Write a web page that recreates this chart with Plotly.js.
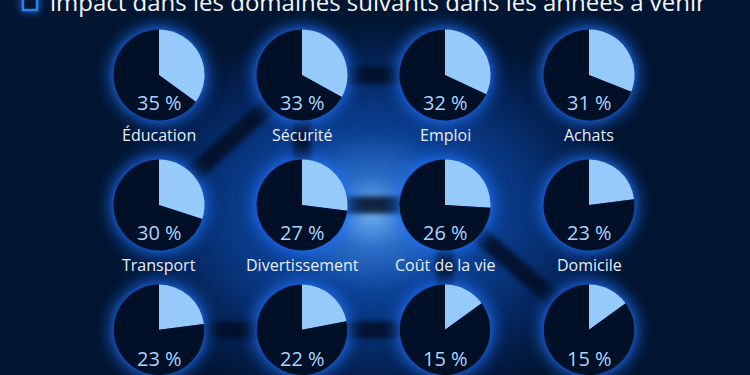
<!DOCTYPE html>
<html>
<head>
<meta charset="utf-8">
<script src="https://cdn.plot.ly/plotly-3.0.1.min.js"></script>
<style>
  html, body { margin: 0; padding: 0; width: 750px; height: 375px; overflow: hidden; background: #021531; }
  #chart {
    width: 750px; height: 375px;
    background:
      radial-gradient(ellipse 95px 80px at 372px 212px, rgba(140,200,255,0.75) 0%, rgba(90,160,240,0.35) 45%, rgba(40,110,220,0) 100%),
      radial-gradient(ellipse 270px 195px at 372px 215px, #1a60c4 0%, #0e49a4 30%, #08347b 58%, #042050 82%, #021531 100%),
      #021531;
  }
  #chart .pielayer .trace { filter: drop-shadow(0 0 9px rgba(25,105,240,0.85)) drop-shadow(0 0 3px rgba(40,120,245,0.6)); }
  #chart .layer-below .shapelayer path { filter: blur(2.5px); }
  #chart .layer-above .shapelayer path { filter: drop-shadow(0 0 4px rgba(40,130,255,0.9)); }
</style>
</head>
<body>
<div id="chart"></div>
<script>
// ---- data ----
const categories = ['Éducation', 'Sécurité', 'Emploi', 'Achats',
                    'Transport', 'Divertissement', 'Coût de la vie', 'Domicile',
                    '', '', '', ''];
const shares = [35, 33, 32, 31, 30, 27, 26, 23, 23, 22, 15, 15];
const valueLabels = ['35 %', '33 %', '32 %', '31 %', '30 %', '27 %', '26 %', '23 %', '23 %', '22 %', '15 %', '15 %'];
const titleText = 'impact dans les domaines suivants dans les années à venir';

// ---- layout helpers (pixel geometry) ----
const W = 750, H = 375;
const colX = [159, 302, 445, 589];
const rowY = [75, 205, 330];
const R = 45.5;
const px = x => x / W;
const py = y => 1 - y / H;

const traces = [];
const annotations = [];
shares.forEach((v, i) => {
  const cx = colX[i % 4], cy = rowY[Math.floor(i / 4)];
  traces.push({
    type: 'pie',
    values: [v, 100 - v],
    labels: ['oui', 'autre'],
    sort: false,
    direction: 'clockwise',
    rotation: 0,
    textinfo: 'none',
    hoverinfo: 'none',
    showlegend: false,
    marker: { colors: ['#96cafb', '#010f27'], line: { width: 0 } },
    domain: { x: [px(cx - R), px(cx + R)], y: [Math.max(0, py(cy + R)), py(cy - R)] }
  });
  annotations.push({
    xref: 'paper', yref: 'paper', x: px(cx), y: py(cy + 28),
    text: valueLabels[i], showarrow: false, xanchor: 'center', yanchor: 'middle',
    font: { family: 'Open Sans', size: 20, color: '#a9d5ff' }
  });
  if (categories[i]) {
    annotations.push({
      xref: 'paper', yref: 'paper', x: px(cx), y: py(cy + 59.5),
      text: categories[i], showarrow: false, xanchor: 'center', yanchor: 'middle',
      font: { family: 'Open Sans', size: 16, color: '#e6eef9' }
    });
  }
});

annotations.push({
  xref: 'paper', yref: 'paper', x: px(48), y: py(2),
  text: titleText, showarrow: false, xanchor: 'left', yanchor: 'middle',
  font: { family: 'Open Sans', size: 24, color: '#f2f6fb' }
});

// connector bands between pies (decorative)
const band = 'rgba(2,14,36,0.85)';
function seg(a, b) {
  const ax = colX[a % 4], ay = rowY[Math.floor(a / 4)];
  const bx = colX[b % 4], by = rowY[Math.floor(b / 4)];
  return { type: 'line', layer: 'below', xref: 'paper', yref: 'paper',
           x0: px(ax), y0: py(ay), x1: px(bx), y1: py(by),
           line: { color: band, width: 17 } };
}
const shapes = [
  seg(1, 2), seg(4, 1), seg(1, 5), seg(5, 6), seg(6, 11), seg(6, 10), seg(8, 9), seg(9, 10),
  { type: 'rect', layer: 'above', xref: 'paper', yref: 'paper', x0: px(23), x1: px(37), y0: py(10), y1: py(-5),
    line: { color: '#2c7fee', width: 2.5 }, fillcolor: '#021530' }
];

Plotly.newPlot('chart', traces, {
  width: W, height: H,
  margin: { l: 0, r: 0, t: 0, b: 0 },
  paper_bgcolor: 'rgba(0,0,0,0)',
  plot_bgcolor: 'rgba(0,0,0,0)',
  annotations: annotations,
  shapes: shapes,
  font: { family: 'Open Sans' }
}, { staticPlot: true, displayModeBar: false });
</script>
</body>
</html>
